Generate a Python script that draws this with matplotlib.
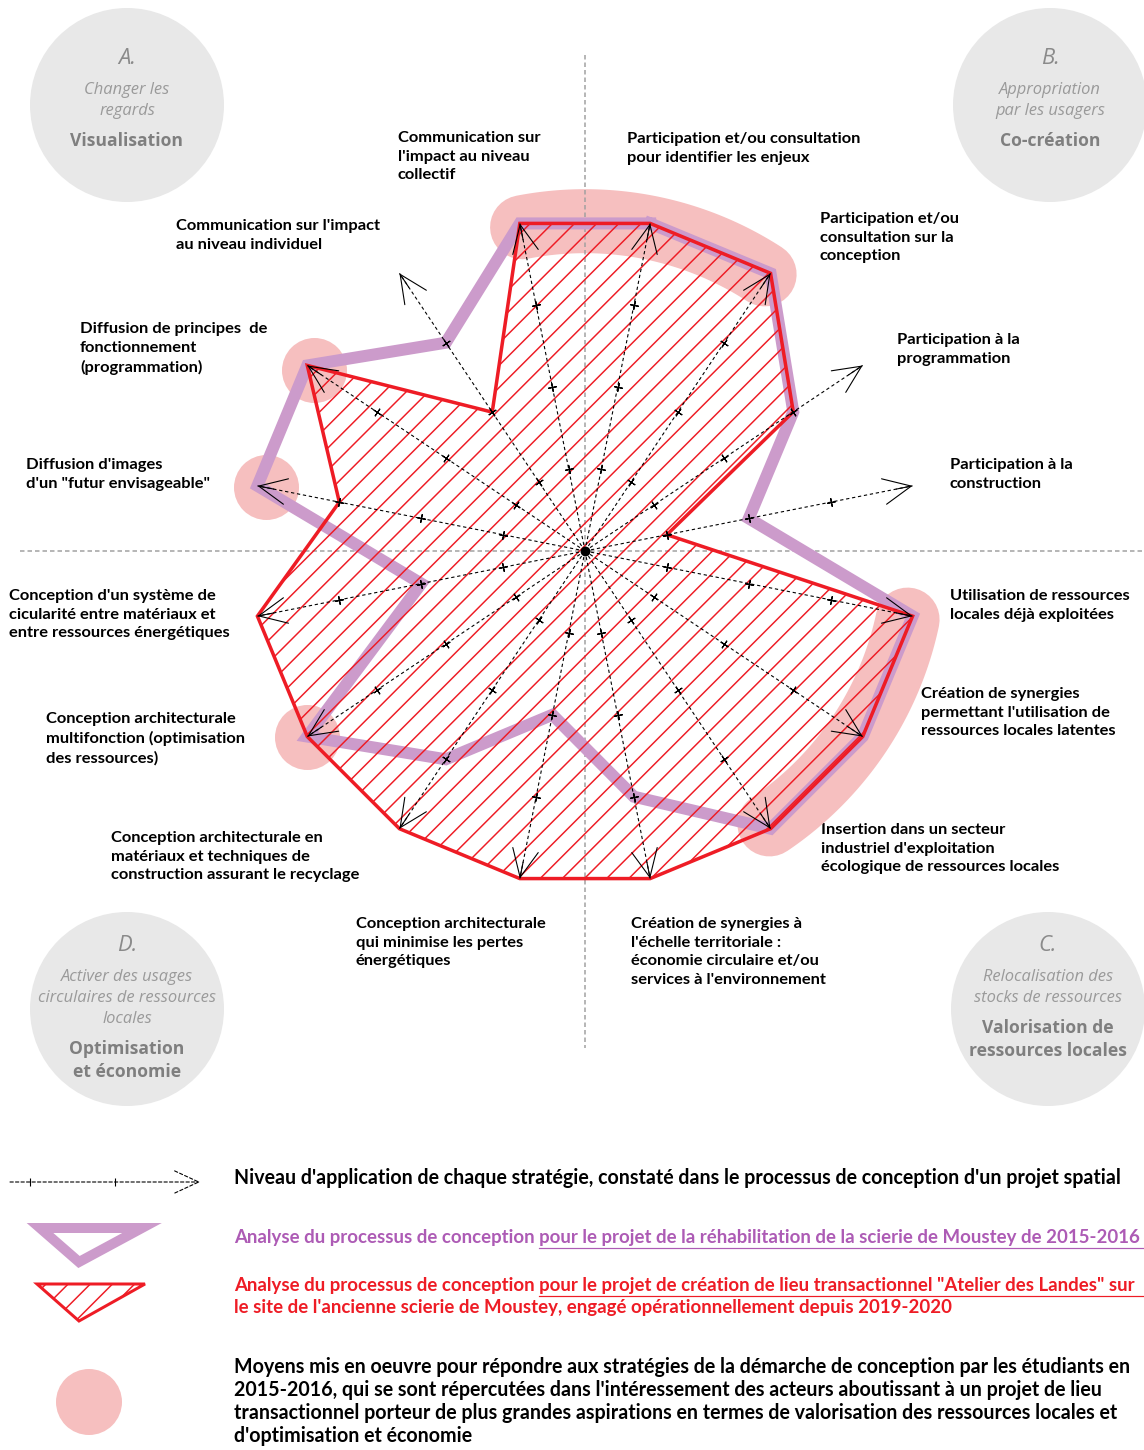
import numpy as np
import matplotlib
matplotlib.use('Agg')
import matplotlib.pyplot as plt
from matplotlib.patches import Circle, Polygon

plt.rcParams['font.family'] = ['Lato', 'DejaVu Sans']
plt.rcParams['hatch.linewidth'] = 0.8

# 16 strategies, clockwise from the top
strategies = [
    "Participation et/ou consultation\npour identifier les enjeux",
    "Participation et/ou\nconsultation sur la\nconception",
    "Participation à la\nprogrammation",
    "Participation à la\nconstruction",
    "Utilisation de ressources\nlocales déjà exploitées",
    "Création de synergies\npermettant l'utilisation de\nressources locales latentes",
    "Insertion dans un secteur\nindustriel d'exploitation\nécologique de ressources locales",
    "Création de synergies à\nl'échelle territoriale :\néconomie circulaire et/ou\nservices à l'environnement",
    "Conception architecturale\nqui minimise les pertes\nénergétiques",
    "Conception architecturale en\nmatériaux et techniques de\nconstruction assurant le recyclage",
    "Conception architecturale\nmultifonction (optimisation\ndes ressources)",
    "Conception d'un système de\ncicularité entre matériaux et\nentre ressources énergétiques",
    "Diffusion d'images\nd'un \"futur envisageable\"",
    "Diffusion de principes  de\nfonctionnement\n(programmation)",
    "Communication sur l'impact\nau niveau individuel",
    "Communication sur\nl'impact au niveau\ncollectif",
]
level_ticks = [1, 2, 3]
level_max = 4
moustey_2015 = [4, 4, 3, 2, 4, 4, 4, 3, 2, 3, 4, 2, 4, 4, 3, 4]
atelier_2019 = [4, 4, 3, 1, 4, 4, 4, 4, 4, 4, 4, 4, 3, 4, 2, 4]

# "moyens mis en oeuvre" highlights: arcs (deg from, deg to) and single strategies
moyens_arcs = [(-11, 33), (102, 146)]
moyens_points = [13, 12, 10]
moyens_points_r = [3.9, 3.9, 4.0]

quadrants = [
    ("A.", ["Changer les", "regards"], ["Visualisation"]),
    ("B.", ["Appropriation", "par les usagers"], ["Co-création"]),
    ("C.", ["Relocalisation des", "stocks de ressources"], ["Valorisation de", "ressources locales"]),
    ("D.", ["Activer des usages", "circulaires de ressources", "locales"], ["Optimisation", "et économie"]),
]

legend_axis = "Niveau d'application de chaque stratégie, constaté dans le processus de conception d'un projet spatial"
legend_purple = "Analyse du processus de conception pour le projet de la réhabilitation de la scierie de Moustey de 2015-2016"
legend_red = ["Analyse du processus de conception pour le projet de création de lieu transactionnel \"Atelier des Landes\" sur",
              "le site de l'ancienne scierie de Moustey, engagé opérationnellement depuis 2019-2020"]
legend_pink = ["Moyens mis en oeuvre pour répondre aux stratégies de la démarche de conception par les étudiants en",
               "2015-2016, qui se sont répercutées dans l'intéressement des acteurs aboutissant à un projet de lieu",
               "transactionnel porteur de plus grandes aspirations en termes de valorisation des ressources locales et",
               "d'optimisation et économie"]

# layout (pixels)
W, H = 1144, 1450
DPI = 400 / 3
cx, cy, R = 585, 551, 334
label_pos = [(627, 141), (820, 221), (897, 342), (950, 467), (950, 598), (921, 696),
             (821, 832), (631, 926), (356, 926), (111, 840), (46, 721), (9, 598),
             (26, 467), (80, 331), (176, 228), (398, 140)]
quad_pos = [(127, 105), (1050, 105), (1048, 1009), (127, 1009)]
quad_top = [-47, -47, -64, -64]

PURPLE = '#CC9BCB'
RED = '#EE1C25'
PINK = '#F6BFBF'
GREY = '#E8E8E8'
LEG_FS = 19.6
LEG_FS_SERIES = 18.6


def pt(px):
    return px * 72 / DPI


fig = plt.figure(figsize=(W / DPI, H / DPI), dpi=DPI)
bg = fig.add_axes([0, 0, 1, 1])
bg.set_xlim(0, W)
bg.set_ylim(H, 0)
bg.axis('off')

ax = fig.add_axes([(cx - R) / W, (H - cy - R) / H, 2 * R / W, 2 * R / H], projection='polar')
ax.set_theta_zero_location('N')
ax.set_theta_direction(-1)
ax.set_ylim(0, level_max)
ax.axis('off')
ax.patch.set_visible(False)

n = len(strategies)
theta_deg = 11.25 + 22.5 * np.arange(n)
theta = np.radians(theta_deg)

# pink highlights
for t0, t1 in moyens_arcs:
    th = np.radians(np.linspace(t0, t1, 80))
    ax.plot(th, np.full_like(th, 3.95), color=PINK, lw=pt(64), solid_capstyle='round',
            zorder=1, clip_on=False)
ax.scatter(theta[moyens_points], moyens_points_r, s=pt(65) ** 2, color=PINK,
           linewidths=0, zorder=1, clip_on=False)

# grey dashed cross
ax.plot([cx, cx], [55, 1048], transform=bg.transData, color='#A0A0A0', lw=pt(1.5),
        ls=(0, (3, 2)), zorder=1.5, clip_on=False)
ax.plot([20, W], [cy, cy], transform=bg.transData, color='#A0A0A0', lw=pt(1.5),
        ls=(0, (3, 2)), zorder=1.5, clip_on=False)

# purple (2015-2016) and red hatched (2019-2020) profiles
ax.plot(np.append(theta, theta[0]), np.append(moustey_2015, moustey_2015[0]), color=PURPLE,
        lw=pt(12), solid_joinstyle='miter', zorder=2, clip_on=False)
ax.fill(theta, atelier_2019, facecolor='none', edgecolor=RED, hatch='//', lw=pt(3.5),
        joinstyle='miter', zorder=3, clip_on=False)

# strategy axes
for t, td in zip(theta, theta_deg):
    ax.plot([t, t], [0, level_max], color='k', lw=pt(1.1), ls=(0, (3, 2.5)), zorder=4, clip_on=False)
    ax.annotate('', xy=(t, level_max), xytext=(t, level_max * 0.95), annotation_clip=False,
                arrowprops=dict(arrowstyle='->,head_length=1.5,head_width=0.7', color='k',
                                lw=pt(1.1), shrinkA=0, shrinkB=0), zorder=4)
    ax.plot([t] * len(level_ticks), level_ticks, ls='none', marker=(4, 2, -td), ms=pt(9),
            mew=pt(1.1), color='k', zorder=4, clip_on=False)
ax.plot([0], [0], 'o', color='k', ms=pt(8), zorder=5)

# strategy labels
for txt, (x, y) in zip(strategies, label_pos):
    bg.text(x, y - 9, txt, ha='left', va='top', fontsize=pt(16.5), fontweight='bold',
            linespacing=1.42, color='k')

# corner circles
for (letter, subs, titles), (x, y), top in zip(quadrants, quad_pos, quad_top):
    bg.add_patch(Circle((x, y), 97, color=GREY, lw=0, zorder=0))
    yy = y + top
    bg.text(x, yy, letter, ha='center', va='center', fontsize=pt(22), style='italic',
            color='#8A8A8A', family='Open Sans')
    yy += 32
    for s in subs:
        bg.text(x, yy, s, ha='center', va='center', fontsize=pt(16.5), style='italic',
                color='#9A9A9A', family='Open Sans')
        yy += 21
    yy += 9
    for s in titles:
        bg.text(x, yy, s, ha='center', va='center', fontsize=pt(17.5), fontweight='bold',
                color='#7F7F7F', family='Open Sans')
        yy += 23

# legend
bg.annotate('', xy=(200, 1182), xytext=(10, 1182),
            arrowprops=dict(arrowstyle='->,head_length=1.3,head_width=0.6', color='k',
                            lw=pt(1.1), ls=(0, (3, 2)), shrinkA=0, shrinkB=0))
bg.plot([30, 115], [1182, 1182], ls='none', marker='|', ms=pt(8), mew=pt(1.1), color='k')
bg.text(234, 1178, legend_axis, ha='left', va='center', fontsize=pt(LEG_FS), fontweight='bold')

bg.add_patch(Polygon([(40, 1228), (142, 1228), (79, 1262)], closed=True, facecolor='none',
                     edgecolor=PURPLE, lw=pt(10), joinstyle='miter'))
bg.add_patch(Polygon([(37, 1284), (145, 1284), (79, 1321)], closed=True, facecolor='none',
                     edgecolor=RED, lw=pt(3), hatch='//', joinstyle='miter'))
bg.add_patch(Circle((89, 1402), 33, color=PINK, lw=0))

renderer = fig.canvas.get_renderer()
inv = bg.transData.inverted()


def text_x_end(s, y, fs):
    t = bg.text(234, y, s, ha='left', va='center', fontsize=pt(fs), fontweight='bold', alpha=0)
    x1 = inv.transform(t.get_window_extent(renderer))[1][0]
    t.remove()
    return x1


u0 = text_x_end("Analyse du processus de conception pour", 1237, LEG_FS_SERIES) - (
    text_x_end("pour", 1237, LEG_FS_SERIES) - 234)

bg.text(234, 1237, legend_purple, ha='left', va='center', fontsize=pt(LEG_FS_SERIES),
        fontweight='bold', color='#AD5BB5')
bg.plot([u0, W], [1248, 1248], color='#AD5BB5', lw=pt(1.2))

bg.text(234, 1285, legend_red[0], ha='left', va='center', fontsize=pt(LEG_FS_SERIES),
        fontweight='bold', color=RED)
bg.text(234, 1308, legend_red[1], ha='left', va='center', fontsize=pt(LEG_FS_SERIES),
        fontweight='bold', color=RED)
bg.plot([u0, W], [1296, 1296], color=RED, lw=pt(1.2))

for i, line in enumerate(legend_pink):
    bg.text(234, 1367 + 23 * i, line, ha='left', va='center', fontsize=pt(LEG_FS),
            fontweight='bold', color='k')

fig.savefig('out.png', dpi=DPI, facecolor='white')
